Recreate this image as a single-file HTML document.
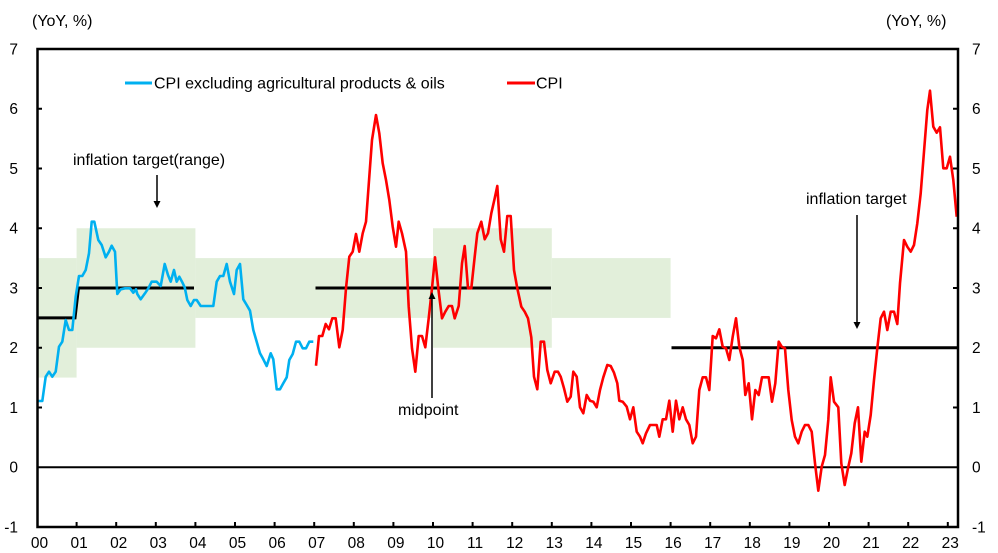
<!DOCTYPE html>
<html>
<head>
<meta charset="utf-8">
<style>
html,body{margin:0;padding:0;background:#fff;}
svg{display:block;}
text{font-family:"Liberation Sans",Arial,sans-serif;fill:#000;}
</style>
</head>
<body>
<svg width="998" height="553" viewBox="0 0 998 553" xmlns="http://www.w3.org/2000/svg">
<!-- green bands -->
<g fill="#E2EFDA">
<rect x="38" y="258.1" width="38.6" height="119.5"/>
<rect x="76.6" y="228.25" width="118.8" height="119.5"/>
<rect x="195.4" y="258.1" width="237.6" height="59.8"/>
<rect x="433" y="228.25" width="118.8" height="119.5"/>
<rect x="551.8" y="258.1" width="118.8" height="59.8"/>
</g>

<!-- zero line -->
<line x1="38" y1="467.25" x2="958" y2="467.25" stroke="#000" stroke-width="2"/>

<!-- target lines -->
<polyline fill="none" stroke="#000" stroke-width="3" points="38,317.9 75,317.9 78.5,288 194,288"/>
<line x1="315.5" y1="288" x2="551" y2="288" stroke="#000" stroke-width="3"/>
<line x1="671.5" y1="347.75" x2="958" y2="347.75" stroke="#000" stroke-width="3"/>

<!-- core CPI (blue) -->
<polyline fill="none" stroke="#00B0F0" stroke-width="2.6" stroke-linejoin="round" points="
38.3,401 42.3,401 45.7,376.7 49,371.7 52.3,376.7 55.7,371.7 59,346.7 62.3,341.7 65.7,320 69,330 72.3,330 75.7,296.7 79,276 82.3,276 85.7,270 89,253.3 91.7,221.7 94.3,221.7 98.3,240 101.7,245 105.7,257.3 109,251.7 111.7,245.7 115,251.7 117.3,294 120.7,289.3 125,288.3 130,288.3 133.3,292.7 136,289.3 137.3,294 140.7,299.3 145,293.3 148.3,288.3 151.7,281.7 156.7,281.7 160.7,286 164.7,264 168,275 170.7,281.7 174,270 176.7,281.7 179.3,276.7 182,281.7 184.7,287.3 187.3,300 190.7,306 194,300 196.7,300 200.7,306 213.3,306 216.7,281.7 220,276 223.3,276 226.7,264 230,281.7 234,294 236.7,270 240,264 243.3,299.3 246.7,305 250,310.7 253.3,330 256.7,341.7 260,353.3 263.3,359.3 266.7,366 270.7,353.3 273.3,359.3 276.7,389.3 280,389.3 283.3,383.3 286.7,377.3 289.3,360 292.7,354 296,341.7 299.3,341.7 302.7,348.3 306,348.3 309.3,341.7 313.3,341.7"/>

<!-- CPI (red) -->
<polyline fill="none" stroke="#FF0000" stroke-width="2.6" stroke-linejoin="round" points="
316,365.7 319,336 322.3,336 325.7,324 329,329.3 332.3,318.3 335.7,318.3 339.3,347.3 342.7,330 346,288.3 349.3,256.7 352.7,251.7 356,234 359.3,251.7 362.7,233.3 366,221.7 369.3,176.7 372,140 376,115 379.3,133.3 382.7,163.3 386,180 389.3,200 392.7,226.7 396,246.7 398.7,221.7 402,233.3 406,251.7 408.7,306.7 412,348.3 415.3,371.7 418.7,336 422,336 425.3,347.3 428.7,318.3 432,288.3 435,257.3 438.3,288.3 442,318.3 445.3,311.7 448.7,306 452,306 454.7,318.3 458.7,306 462,263.3 464.7,246 468,288.3 471.3,288.3 474.7,256.7 477.3,233.3 481.3,221.7 484.7,239.3 488,233.3 491.3,213.3 494.7,198.3 497.3,186 500.7,239.3 504,251.7 507.3,216 510.7,216 514,270 517.3,288.3 521.3,306.7 524.7,311.7 528,318.3 531.3,337.3 534,376.7 537.3,389.3 540.7,341.7 544,341.7 547.3,370 550.7,383.3 554.7,371.7 558,371.7 560.7,376.7 564,388.3 567.3,401.7 570.7,396.7 573.3,371.7 576.7,376.7 580,407.3 583.3,413.3 586.7,395 590,400.7 593.3,401.7 596.7,407.3 600,390 603.3,377.3 607.3,365 610.7,366 614,372.7 617.3,383.3 619.3,400.7 622.7,401.7 626.7,406.7 630,419.3 633.3,407.3 636.7,431.7 640,436.7 642.7,443.3 646,433.3 650,425 653.3,425 656.7,425 659.3,436.7 662.7,419.3 666,419.3 669.3,400.7 672.7,431.7 676,400.7 679.3,419.3 682.7,407.3 686,419.3 689.3,425 692.7,443.3 696,436.7 699.3,390 702.7,377.3 706,377.3 709.3,390 712.7,336 716,338.3 719.3,329.3 722.7,346.7 726,348.3 729.3,360 732.7,336.7 736,318.3 739.3,346.7 742.7,360 745.3,395 748.7,383.3 752,419.3 755.3,390 758.7,395 762,377.3 765.3,377.3 768.7,377.3 772,401.7 775.3,383.3 778.7,341.7 781.7,346.7 785,348.3 788.3,390 791.7,420 795,436.7 798.3,443.3 801.7,431.7 805,425 808.3,425 811.7,431.7 815,463.3 818.3,490.7 821.7,466.7 825,455 828.3,420 830.7,377.3 834,401.7 838.3,407.3 841.3,463.3 844.7,485 848,468.3 851.3,453.3 854.7,423.3 858,407.3 861.3,461.7 864.7,431.7 867.3,436.7 870.7,415 874,380 877.3,348.3 880.7,318.3 884,311.7 887.3,330 890.7,311.7 894,311.7 897.3,324 900,283.3 904,240 907.3,246.7 910.7,251.7 914,245 917.3,223.3 920.7,193.3 924,151.7 927.3,110 930,90.7 933.3,126.7 936.7,132.7 940,127.3 943.3,168.3 946.7,168.3 950,156.7 953.3,180 956.7,216.7"/>

<!-- frame -->
<rect x="37.5" y="49" width="920.5" height="478" fill="none" stroke="#000" stroke-width="2.5"/>

<!-- ticks -->
<g stroke="#000" stroke-width="2">
<line x1="37" y1="108.75" x2="42" y2="108.75"/>
<line x1="37" y1="168.5" x2="42" y2="168.5"/>
<line x1="37" y1="228.25" x2="42" y2="228.25"/>
<line x1="37" y1="288" x2="42" y2="288"/>
<line x1="37" y1="347.75" x2="42" y2="347.75"/>
<line x1="37" y1="407.5" x2="42" y2="407.5"/>
<line x1="953" y1="108.75" x2="958" y2="108.75"/>
<line x1="953" y1="168.5" x2="958" y2="168.5"/>
<line x1="953" y1="228.25" x2="958" y2="228.25"/>
<line x1="953" y1="288" x2="958" y2="288"/>
<line x1="953" y1="347.75" x2="958" y2="347.75"/>
<line x1="953" y1="407.5" x2="958" y2="407.5"/>
<line x1="76.6" y1="522" x2="76.6" y2="527"/>
<line x1="116.2" y1="522" x2="116.2" y2="527"/>
<line x1="155.8" y1="522" x2="155.8" y2="527"/>
<line x1="195.4" y1="522" x2="195.4" y2="527"/>
<line x1="235" y1="522" x2="235" y2="527"/>
<line x1="274.6" y1="522" x2="274.6" y2="527"/>
<line x1="314.2" y1="522" x2="314.2" y2="527"/>
<line x1="353.8" y1="522" x2="353.8" y2="527"/>
<line x1="393.4" y1="522" x2="393.4" y2="527"/>
<line x1="433" y1="522" x2="433" y2="527"/>
<line x1="472.6" y1="522" x2="472.6" y2="527"/>
<line x1="512.2" y1="522" x2="512.2" y2="527"/>
<line x1="551.8" y1="522" x2="551.8" y2="527"/>
<line x1="591.4" y1="522" x2="591.4" y2="527"/>
<line x1="631" y1="522" x2="631" y2="527"/>
<line x1="670.6" y1="522" x2="670.6" y2="527"/>
<line x1="710.2" y1="522" x2="710.2" y2="527"/>
<line x1="749.8" y1="522" x2="749.8" y2="527"/>
<line x1="789.4" y1="522" x2="789.4" y2="527"/>
<line x1="829" y1="522" x2="829" y2="527"/>
<line x1="868.6" y1="522" x2="868.6" y2="527"/>
<line x1="908.2" y1="522" x2="908.2" y2="527"/>
<line x1="947.8" y1="522" x2="947.8" y2="527"/>
</g>

<!-- axis unit labels -->
<text x="32" y="26" font-size="16">(YoY, %)</text>
<text x="886" y="26" font-size="16">(YoY, %)</text>

<!-- left y labels -->
<g font-size="15.5" text-anchor="end">
<text x="18" y="54.5">7</text>
<text x="18" y="114.2">6</text>
<text x="18" y="174">5</text>
<text x="18" y="233.7">4</text>
<text x="18" y="293.5">3</text>
<text x="18" y="353.2">2</text>
<text x="18" y="413">1</text>
<text x="18" y="472.7">0</text>
<text x="18" y="532.5">-1</text>
</g>
<!-- right y labels -->
<g font-size="15.5" text-anchor="start">
<text x="972" y="54.5">7</text>
<text x="972" y="114.2">6</text>
<text x="972" y="174">5</text>
<text x="972" y="233.7">4</text>
<text x="972" y="293.5">3</text>
<text x="972" y="353.2">2</text>
<text x="972" y="413">1</text>
<text x="972" y="472.7">0</text>
<text x="972" y="532.5">-1</text>
</g>

<!-- x labels -->
<g font-size="15.5" text-anchor="middle">
<text x="39.5" y="548">00</text>
<text x="79.1" y="548">01</text>
<text x="118.7" y="548">02</text>
<text x="158.3" y="548">03</text>
<text x="197.9" y="548">04</text>
<text x="237.5" y="548">05</text>
<text x="277.1" y="548">06</text>
<text x="316.7" y="548">07</text>
<text x="356.3" y="548">08</text>
<text x="395.9" y="548">09</text>
<text x="435.5" y="548">10</text>
<text x="475.1" y="548">11</text>
<text x="514.7" y="548">12</text>
<text x="554.3" y="548">13</text>
<text x="593.9" y="548">14</text>
<text x="633.5" y="548">15</text>
<text x="673.1" y="548">16</text>
<text x="712.7" y="548">17</text>
<text x="752.3" y="548">18</text>
<text x="791.9" y="548">19</text>
<text x="831.5" y="548">20</text>
<text x="871.1" y="548">21</text>
<text x="910.7" y="548">22</text>
<text x="950.3" y="548">23</text>
</g>

<!-- legend -->
<line x1="125" y1="83" x2="152" y2="83" stroke="#00B0F0" stroke-width="3"/>
<text x="154" y="88.5" font-size="16">CPI excluding agricultural products &amp; oils</text>
<line x1="507" y1="83" x2="535" y2="83" stroke="#FF0000" stroke-width="3"/>
<text x="536" y="88.5" font-size="16">CPI</text>

<!-- annotations -->
<text x="73" y="165" font-size="16">inflation target(range)</text>
<line x1="157" y1="175" x2="157" y2="203" stroke="#000" stroke-width="1.5"/>
<polygon points="153.5,201 160.5,201 157,208" fill="#000"/>

<text x="398" y="415" font-size="16">midpoint</text>
<line x1="432" y1="398" x2="432" y2="297" stroke="#000" stroke-width="1.5"/>
<polygon points="428.5,299 435.5,299 432,292" fill="#000"/>

<text x="806" y="204" font-size="16">inflation target</text>
<line x1="857" y1="215" x2="857" y2="324" stroke="#000" stroke-width="1.5"/>
<polygon points="853.5,322 860.5,322 857,329" fill="#000"/>
</svg>
</body>
</html>
